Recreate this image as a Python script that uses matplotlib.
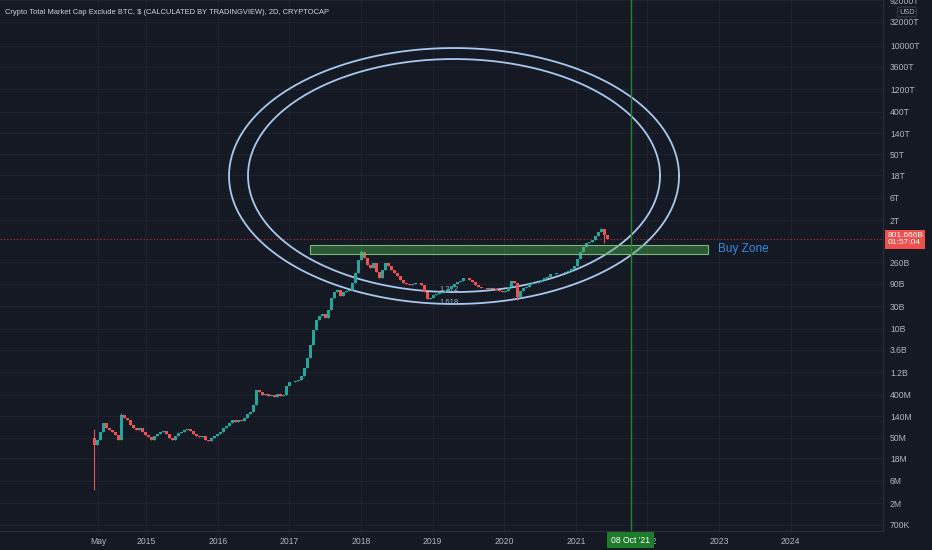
import sys
import numpy as np
from matplotlib import pyplot as plt
from matplotlib import transforms
from matplotlib.patches import Rectangle

# 2D chart, one close roughly every 15 days (millions USD)
startYear = 2014.274
stepYear = 0.0419
firstOpen = 48.0
closes = [
    34.7, 44.3, 65.4, 101.5, 79.6, 72.2, 65.4, 56.5, 44.3, 150,
    129.6, 117.5, 92.1, 79.6, 72.2, 79.6, 65.4, 56.5,
    51.3, 44.3, 53.8, 59.3, 65.4, 68.7, 59.3, 48.8, 44.3, 53.8,
    62.3, 65.4, 72.2, 75.8, 68.7, 59.3, 53.8, 51.3, 53.8, 44.3,
    42.2, 48.8, 53.8, 59.3,
    65.4, 79.6, 87.7, 101.5, 117.5, 106.6, 117.5, 112, 129.6, 157.5,
    173.6, 244, 508, 461, 398, 418, 379, 398, 361, 418,
    379, 398, 618, 751,
    751, 789, 828, 1010, 1490, 2420, 4560, 9500, 15500, 18800,
    20700, 17100, 25200, 45200, 60600, 66800, 49900, 60600, 63600, 66800,
    94000, 153000, 289000, 426000,
    319000, 226000, 195000, 249000, 161000, 120000, 177000, 249000, 215000, 177000,
    153000, 132000, 109000, 94000, 89600, 85300, 89600, 94000, 94000, 85300,
    60600, 43000, 45200,
    52400, 55000, 57700, 60600, 63600, 70100, 77400, 89600, 98800, 104000,
    120000, 120000, 109000, 98800, 85300, 77400, 73700, 73700, 70100, 73700,
    70100, 66800, 63600, 60600,
    63600, 77400, 104000, 94000, 47500, 63600, 73700, 77400, 89600, 94000,
    94000, 98800, 109000, 120000, 126000, 146000, 146000, 153000, 153000, 153000,
    161000, 169000, 186000, 215000,
    303000, 426000, 544000, 661000, 694000, 766000, 930000, 1130000, 1310000, 977000,
    801666,
]
# wicks that stick out from the bodies (candle index -> millions USD)
wickLows = {0: 3.9, 141: 41000, 170: 661000}
wickHighs = {0: 75, 9: 165, 89: 470000, 169: 1370000}

lastPrice = 801.666e9
lastPriceText = "801.666B\n01:57:04"
markerYear = 2021.767  # 08 Oct '21
markerText = "08 Oct '21"

buyZoneStart = 2017.29
buyZoneEnd = 2022.84
buyZoneLow = 3.87e11
buyZoneHigh = 6.0e11

# ellipses: center year, center log10(value), half width (years), half height (decades)
ellipses = [
    (2019.30, 13.24, 3.142, 2.712),
    (2019.30, 13.25, 2.877, 2.469),
]

yTicks = [7e5, 2e6, 6e6, 18e6, 50e6, 140e6, 400e6, 1.2e9, 3.6e9, 10e9, 30e9, 90e9,
          260e9, 2e12, 6e12, 18e12, 50e12, 140e12, 400e12, 1200e12, 3600e12,
          10000e12, 32000e12, 92000e12]
yLabels = ["700K", "2M", "6M", "18M", "50M", "140M", "400M", "1.2B", "3.6B", "10B",
           "30B", "90B", "260B", "2T", "6T", "18T", "50T", "140T", "400T", "1200T",
           "3600T", "10000T", "32000T", "92000T"]
xTicks = [2014.33, 2015, 2016, 2017, 2018, 2019, 2020, 2021, 2022, 2023, 2024]
xLabels = ["May", "2015", "2016", "2017", "2018", "2019", "2020", "2021", "2022",
           "2023", "2024"]

title = "Crypto Total Market Cap Exclude BTC, $ (CALCULATED BY TRADINGVIEW), 2D, CRYPTOCAP"

bg = "#151924"
textColor = "#b2b5be"


def main(argv=None):
    plt.rcParams['font.family'] = ['Liberation Sans', 'DejaVu Sans']

    fig = plt.figure(figsize=(9.32, 5.5), dpi=100, facecolor=bg)
    ax = fig.add_axes([0, 19 / 550, 883 / 932, 531 / 550])
    ax.set_facecolor(bg)
    ax.set_yscale("log")
    ax.set_xlim(2012.96, 2025.29)
    ax.set_ylim(5.22e5, 9.33e16)

    # candles
    vals = np.array(closes) * 1e6
    opens = np.concatenate([[firstOpen * 1e6], vals[:-1]])
    xs = startYear + stepYear * np.arange(len(vals))
    lows = np.minimum(opens, vals)
    highs = np.maximum(opens, vals)
    for i, v in wickLows.items():
        lows[i] = v * 1e6
    for i, v in wickHighs.items():
        highs[i] = v * 1e6
    colors = ["#26a69a" if c >= o else "#ef5350" for o, c in zip(opens, vals)]
    ax.vlines(xs, lows, highs, colors=colors, lw=0.8, zorder=4)
    ax.bar(xs, np.maximum(opens, vals) - np.minimum(opens, vals),
           bottom=np.minimum(opens, vals), width=stepYear * 0.95,
           color=colors, lw=0, zorder=4)

    # ellipses
    t = np.linspace(0, 2 * np.pi, 500)
    for cx, cy, a, b in ellipses:
        ax.plot(cx + a * np.cos(t), 10 ** (cy + b * np.sin(t)),
                color="#a9c8ee", lw=1.3, zorder=3)
    ax.text(2019.10, 6.3e10, "1.272", color="#9db5d6", fontsize=5.5, zorder=3)
    ax.text(2019.10, 3.7e10, "1.618", color="#9db5d6", fontsize=5.5, zorder=3, va="center")

    # buy zone
    ax.add_patch(Rectangle((buyZoneStart, buyZoneLow), buyZoneEnd - buyZoneStart,
                           buyZoneHigh - buyZoneLow, facecolor=(0.30, 0.69, 0.31, 0.42),
                           edgecolor="#78b97a", lw=0.8, zorder=5))
    ax.text(buyZoneEnd + 0.14, (buyZoneLow * buyZoneHigh) ** 0.5, "Buy Zone",
            color="#2f8ee8", fontsize=8.5, va="center")

    # last price line and marker line
    ax.axhline(lastPrice, color="#f23645", ls=(0, (1, 2)), lw=0.8, alpha=0.8, zorder=2)
    ax.axvline(markerYear, color="#1f8a2b", lw=1.0, zorder=6)

    # axes styling
    ax.yaxis.tick_right()
    ax.set_yticks(yTicks)
    ax.set_yticklabels(yLabels)
    ax.yaxis.set_minor_locator(plt.NullLocator())
    ax.set_xticks(xTicks)
    ax.set_xticklabels(xLabels)
    ax.tick_params(axis="both", length=0, labelsize=6.2, colors=textColor)
    ax.tick_params(axis="y", pad=5)
    ax.tick_params(axis="x", pad=4)
    ax.grid(True, color="#222632", lw=0.6, zorder=0)
    for side in ["left", "top"]:
        ax.spines[side].set_visible(False)
    for side in ["right", "bottom"]:
        ax.spines[side].set_color("#2a2e39")
        ax.spines[side].set_linewidth(0.8)

    # labels on the axes
    yTrans = transforms.blended_transform_factory(ax.transAxes, ax.transData)
    ax.text(1.005, lastPrice, lastPriceText, transform=yTrans, color="white",
            fontsize=6.0, va="center", ha="left", clip_on=False, zorder=10,
            linespacing=1.15,
            bbox=dict(boxstyle="square,pad=0.25", facecolor="#f0504d", edgecolor="none"))
    xTrans = transforms.blended_transform_factory(ax.transData, ax.transAxes)
    ax.text(markerYear, -0.017, markerText, transform=xTrans, color="white",
            fontsize=6.2, va="center", ha="center", clip_on=False, zorder=10,
            bbox=dict(boxstyle="square,pad=0.45", facecolor="#1e7b2c", edgecolor="none"))

    fig.text(0.005, 1 - 12 / 550, title, color="#d1d4dc", fontsize=5.4, va="center")
    fig.text(907 / 932, 1 - 12 / 550, "USD", color=textColor, fontsize=5.3,
             va="center", ha="center",
             bbox=dict(boxstyle="round,pad=0.2", facecolor=bg, edgecolor="#434651", lw=0.6))

    fig.savefig("out.png", dpi=100, facecolor=bg)


if __name__ == "__main__":
    sys.exit(main())
